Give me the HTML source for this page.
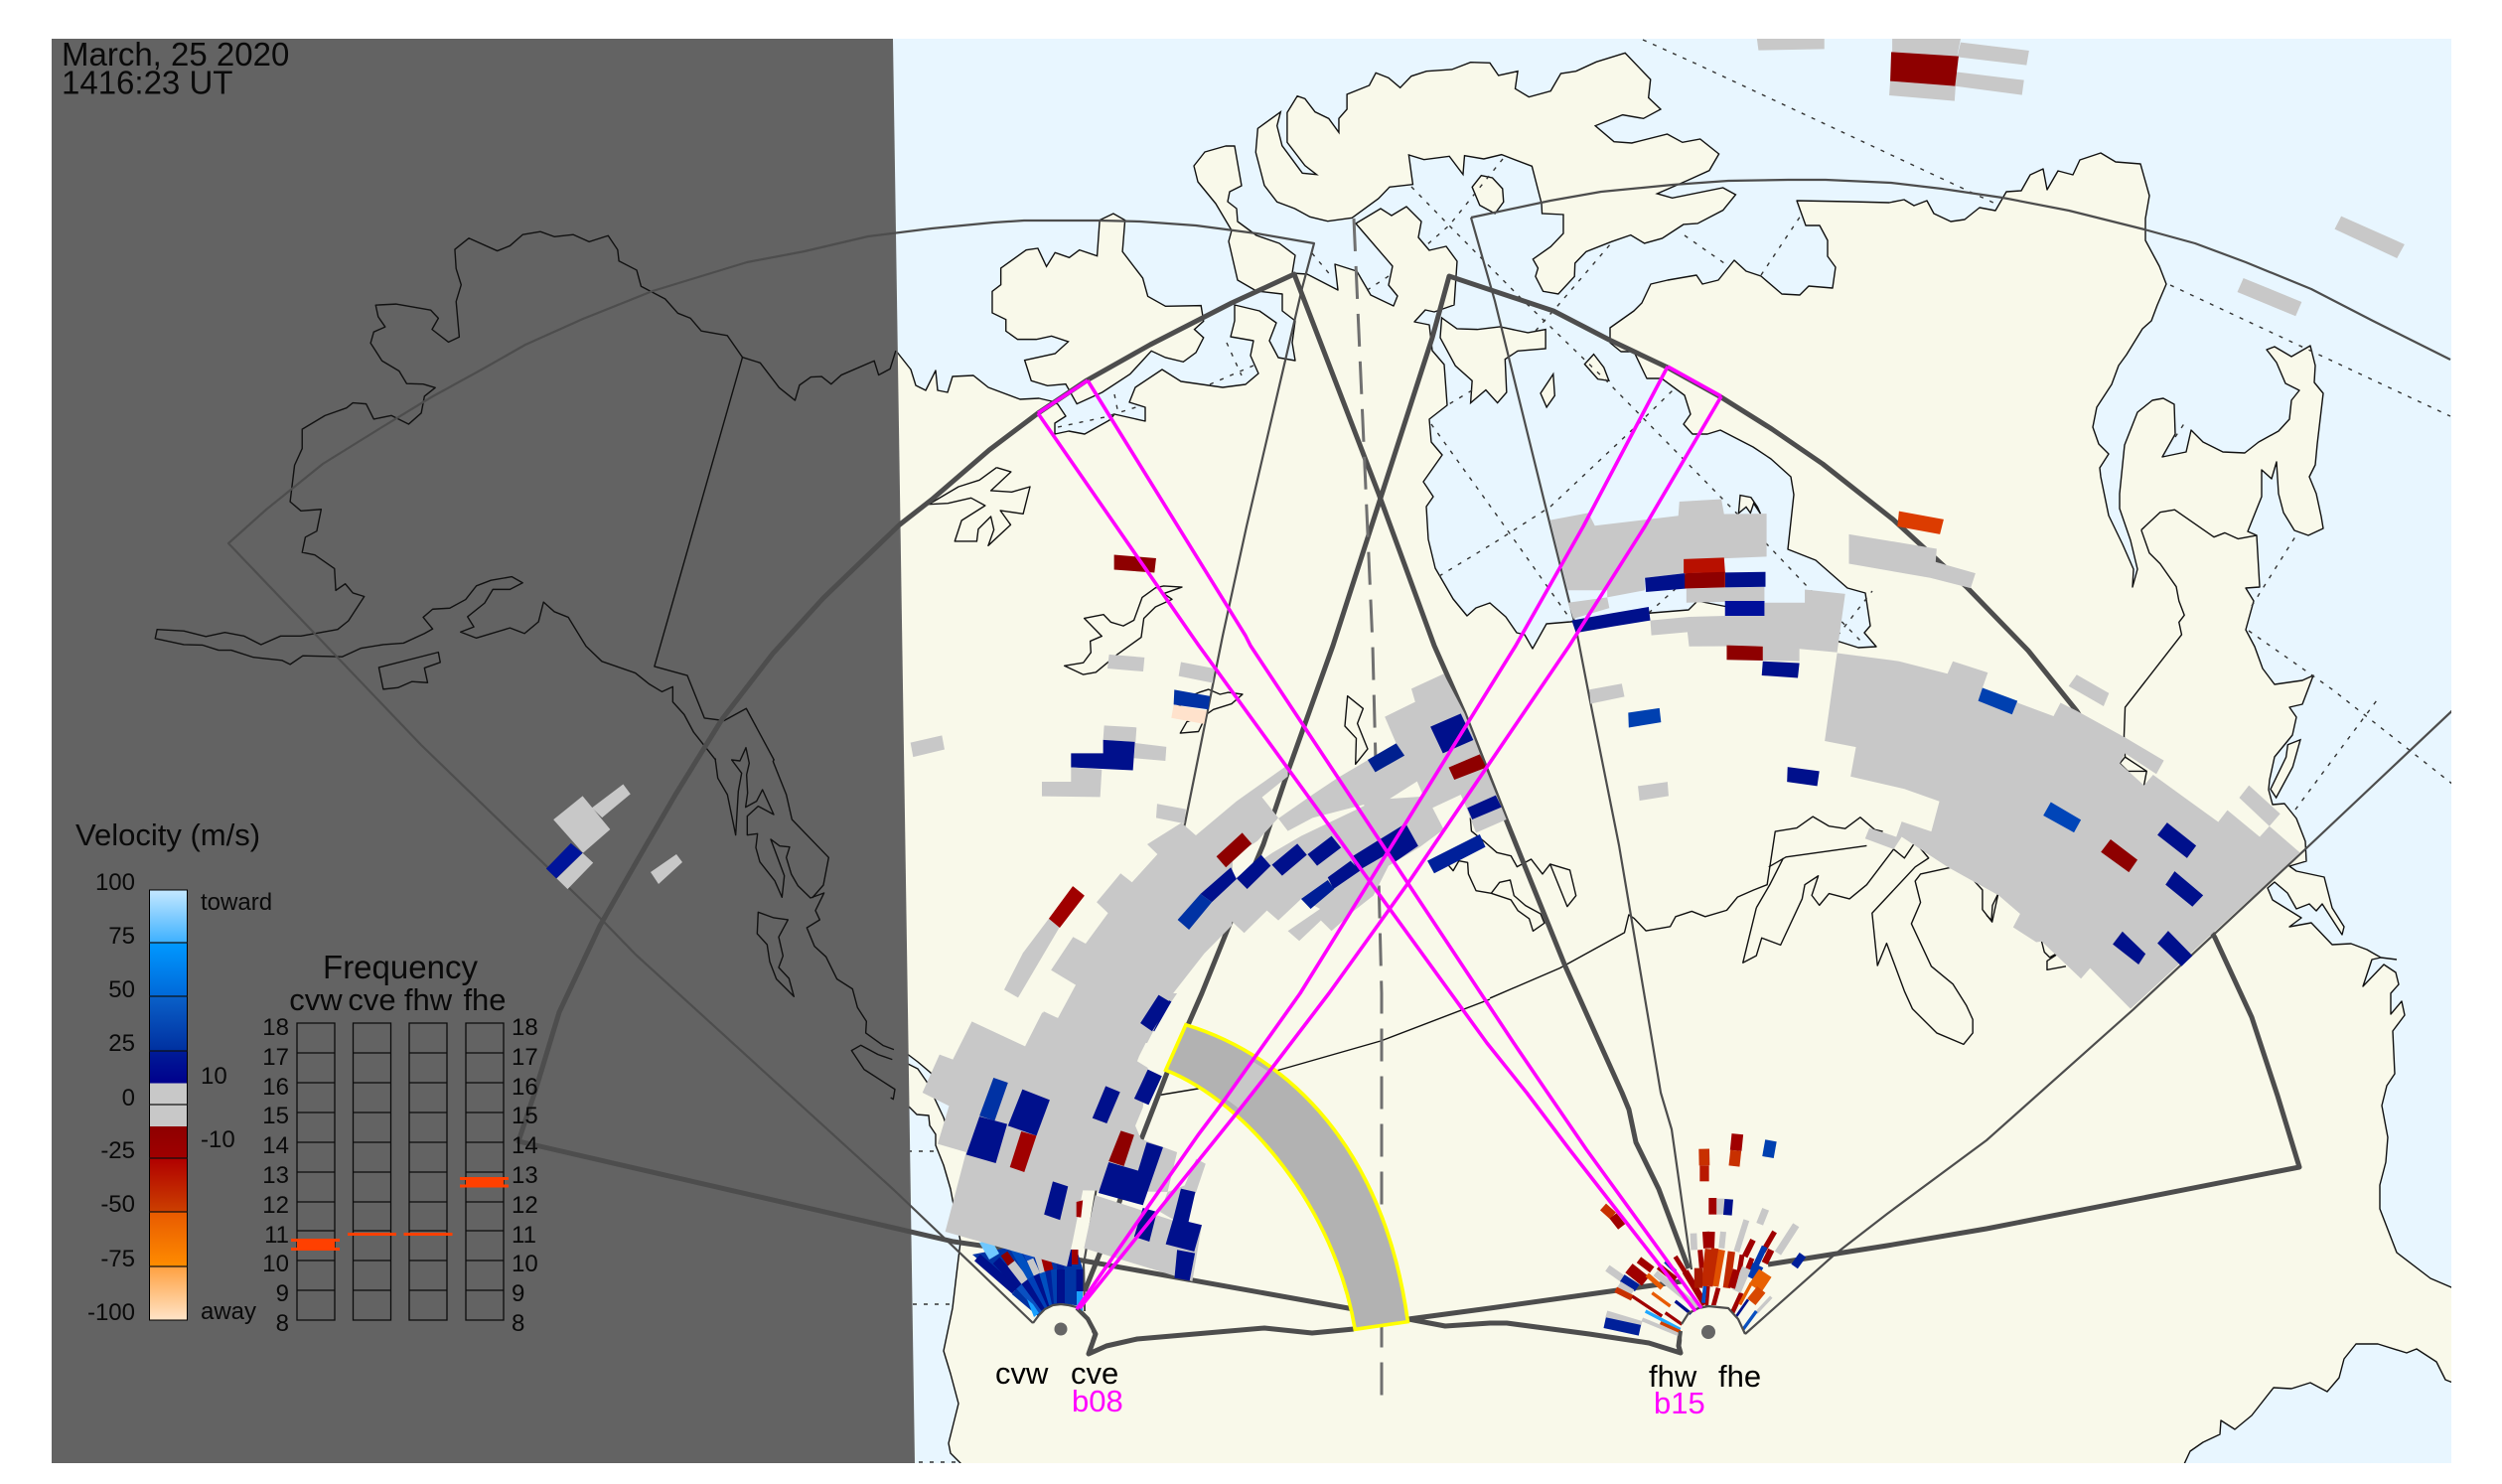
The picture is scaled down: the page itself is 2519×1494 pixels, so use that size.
<!DOCTYPE html>
<html><head><meta charset="utf-8"><title>Velocity map</title>
<style>
html,body{margin:0;padding:0;background:#fff}
svg{display:block}
.n *{vector-effect:non-scaling-stroke}
text{font-family:"Liberation Sans",sans-serif;fill:#0a0a0a}
.c{fill:none;stroke:#111;stroke-width:1.4;stroke-linejoin:round}
.d{fill:none;stroke:#333;stroke-width:1.4;stroke-dasharray:4 7}
.t{fill:none;stroke:#4d4d4d;stroke-width:2.2;stroke-linejoin:round}
.k{fill:none;stroke:#4d4d4d;stroke-width:5;stroke-linejoin:round}
.m{fill:none;stroke:#ff00ff;stroke-width:3.6;stroke-linejoin:round}
.g{fill:#c8c8c8}.nv{fill:#00108c}.bl{fill:#0032a4}.re{fill:#8e0000}.rd{fill:#a00000}
.f line,.f path{stroke-linecap:butt;fill:none}
</style></head><body>
<svg width="2519" height="1494" viewBox="0 0 2519 1494" xmlns="http://www.w3.org/2000/svg">
<defs>
<clipPath id="p"><rect x="52" y="39" width="2416" height="1434"/></clipPath>
<linearGradient id="cb" x1="0" y1="0" x2="0" y2="1">
<stop offset="0" stop-color="#c4e8ff"/><stop offset=".124" stop-color="#3cb0ff"/>
<stop offset=".124" stop-color="#0098ff"/><stop offset=".249" stop-color="#0068d8"/>
<stop offset=".249" stop-color="#0a60c8"/><stop offset=".374" stop-color="#0030a0"/>
<stop offset=".374" stop-color="#001c98"/><stop offset=".449" stop-color="#00008c"/>
<stop offset=".449" stop-color="#c8c8c8"/><stop offset=".55" stop-color="#c8c8c8"/>
<stop offset=".55" stop-color="#8e0000"/><stop offset=".624" stop-color="#a00000"/>
<stop offset=".624" stop-color="#b00000"/><stop offset=".749" stop-color="#cc4000"/>
<stop offset=".749" stop-color="#e85a00"/><stop offset=".875" stop-color="#ff8c00"/>
<stop offset=".875" stop-color="#ffa040"/><stop offset="1" stop-color="#ffe4c8"/>
</linearGradient>
</defs>
<rect width="2519" height="1494" fill="#fff"/>
<g clip-path="url(#p)">
<rect x="52" y="39" width="2416" height="1434" fill="#e8f6ff"/>
<g class="n">
<!-- main land -->
<polygon fill="#f9f9ea" stroke="#111" stroke-width="1.4" stroke-linejoin="round" points="880,353 902,353 917,372 922,388 932,393 942,373 944,393 954,395 959,379 980,378 995,390 1027,402 1046,401 1059,404 1065,407 1073,419 1062,426 1062,437 1076,434 1092,437 1117,423 1122,417 1153,424 1153,410 1137,405 1143,390 1170,372 1189,384 1231,390 1254,387 1267,376 1259,358 1262,343 1239,339 1243,323 1243,307 1268,313 1285,325 1278,343 1287,360 1304,363 1301,345 1304,323 1291,313 1291,296 1265,293 1246,282 1237,243 1240,232 1224,205 1206,183 1202,167 1213,153 1234,147 1243,147 1250,187 1238,193 1236,203 1245,210 1246,223 1265,237 1288,245 1304,257 1301,275 1316,276 1347,292 1344,266 1366,273 1380,297 1403,308 1407,298 1398,287 1402,268 1365,225 1390,210 1401,217 1416,208 1431,223 1428,239 1439,252 1456,248 1467,263 1464,307 1444,314 1435,312 1424,324 1439,327 1442,353 1454,367 1457,408 1439,422 1441,445 1452,458 1433,485 1443,500 1436,510 1438,543 1445,572 1463,603 1477,620 1486,612 1500,607 1516,621 1527,637 1535,639 1543,653 1557,628 1581,626 1663,617 1700,614 1709,605 1760,615 1800,640 1852,646 1871,652 1889,651 1877,637 1883,630 1878,597 1860,592 1852,585 1828,564 1800,553 1806,498 1803,480 1783,462 1765,450 1732,433 1719,437 1704,437 1695,427 1702,417 1696,398 1673,381 1658,381 1645,354 1632,354 1621,345 1621,330 1645,313 1653,305 1662,286 1679,282 1708,277 1714,286 1730,282 1746,262 1758,273 1773,278 1794,296 1812,297 1821,288 1845,290 1848,269 1840,258 1840,242 1832,227 1818,227 1809,202 1863,203 1902,204 1917,201 1927,207 1940,202 1947,215 1964,223 1978,221 1993,209 2009,212 2020,193 2035,192 2044,176 2057,170 2061,191 2072,172 2087,176 2094,161 2115,154 2130,163 2155,165 2164,197 2160,220 2160,242 2174,268 2181,286 2172,307 2166,323 2157,331 2141,357 2133,368 2126,387 2111,410 2107,430 2113,447 2123,457 2114,471 2115,480 2123,519 2137,548 2148,573 2147,591 2152,573 2145,544 2134,512 2134,497 2139,448 2152,415 2167,403 2178,401 2189,407 2190,437 2177,460 2201,455 2206,433 2218,445 2238,455 2260,456 2274,445 2294,434 2305,422 2307,403 2315,393 2301,386 2292,365 2282,352 2290,349 2307,359 2326,348 2331,368 2330,385 2339,396 2333,447 2331,468 2325,480 2332,497 2337,520 2339,532 2324,539 2310,534 2299,516 2294,497 2292,465 2287,482 2277,473 2277,500 2275,505 2263,535 2272,539 2275,591 2261,592 2269,605 2261,634 2270,651 2278,673 2290,689 2318,685 2329,680 2318,709 2305,712 2312,722 2308,740 2290,762 2285,785 2284,795 2288,810 2300,809 2312,824 2321,847 2322,867 2305,872 2312,877 2340,883 2348,914 2360,933 2358,941 2338,910 2332,917 2325,910 2312,915 2303,899 2290,888 2283,894 2288,906 2317,924 2305,933 2327,929 2348,951 2367,950 2383,956 2397,964 2388,966 2379,993 2400,971 2412,979 2415,991 2407,1000 2407,1021 2418,1008 2421,1022 2409,1038 2411,1081 2403,1093 2398,1113 2404,1145 2402,1170 2396,1193 2396,1217 2413,1261 2447,1287 2475,1299 2475,1393 2467,1391 2462,1389 2453,1371 2433,1358 2423,1362 2394,1353 2372,1353 2360,1368 2355,1387 2343,1401 2326,1392 2307,1398 2289,1397 2267,1425 2250,1439 2236,1430 2235,1444 2218,1452 2205,1461 2199,1474 2199,1485 975,1485 967,1473 957,1463 955,1453 965,1413 957,1383 950,1360 959,1317 963,1283 967,1250 957,1197 950,1173 942,1153 942,1142 936,1133 935,1123 923,1122 911,1110 901,1097 870,1077 857,1058 867,1052 884,1062 912,1070 924,1076 933,1089 950,1125 955,1140 972,1150 985,1148 968,1130 937,1080 924,1069 912,1060 889,1053 872,1040 860,1000 880,1000"/>
<line class="c" x1="2397" y1="964" x2="2413" y2="966"/>
<!-- islands -->
<g transform="translate(1000,30) scale(.5102,.3333)" fill="#f9f9ea" stroke="#111" stroke-width="1.4">
<polygon points="1247,70 1275,115 1297,150 1293,205 1317,240 1283,268 1242,257 1188,290 1225,338 1260,342 1330,315 1360,340 1395,330 1432,375 1413,425 1370,455 1310,495 1340,508 1440,477 1465,498 1440,545 1390,585 1362,588 1320,630 1285,645 1258,620 1220,640 1170,670 1148,705 1147,745 1115,798 1085,790 1070,745 1075,720 1065,693 1100,655 1125,615 1125,558 1083,555 1082,525 1063,412 1003,377 968,390 930,380 927,437 900,382 850,392 820,378 828,467 782,475 760,510 708,568 660,578 625,565 595,540 560,520 535,470 518,370 522,298 567,248 560,290 570,350 610,433 638,437 615,410 580,340 580,250 600,200 615,208 635,248 662,268 682,310 682,268 698,240 698,195 742,168 755,130 780,145 803,175 825,140 855,125 905,120 942,98 980,100 997,138 1035,125 1030,178 1057,203 1100,185 1120,132 1150,125 1190,97"/>
<polygon points="945,475 963,440 985,447 1005,480 1007,520 990,555 960,530"/>
<polygon points="1185,980 1205,1020 1215,1060 1193,1055 1167,1010"/>
<polygon points="1105,1040 1108,1105 1092,1140 1080,1098"/>
<polygon points="885,870 915,903 955,905 1000,897 1055,915 1090,905 1090,963 1035,970 1010,995 1013,1095 995,1127 972,1088 942,1127 945,1060 912,1015 882,930"/>
<polygon points="210,575 237,555 260,575 255,670 295,750 305,805 340,835 410,833 415,880 397,905 415,930 400,975 375,1003 340,990 312,970 270,1040 215,1095 165,1130 143,1070 107,1075 75,1060 62,998 122,978 148,942 115,925 85,935 48,935 25,910 25,875 -2,855 -2,790 15,770 15,720 65,665 88,660 105,715 122,673 150,688 170,665 205,683"/>
</g>
<polygon transform="translate(1500,480) scale(.542,.3571)" fill="#f9f9ea" stroke="#111" stroke-width="1.4" points="462,103 465,52 485,58 497,85 503,105 490,75 484,102 476,85"/>
<polygon transform="translate(2000,700) scale(.3333,.4975)" fill="#f9f9ea" stroke="#111" stroke-width="1.4" points="948,90 910,100 905,125 858,190 875,207 925,145"/>
<!-- lakes and interior lines -->
<polyline class="c" transform="translate(900,340) scale(.3827,.3333)" points="270,392 308,405 255,462 310,466 358,450 340,532 280,522 307,565 248,628 263,580 255,540 222,578 218,615 160,615 178,552 240,507 203,484 142,500 92,503 170,450 225,430 270,392"/>
<g transform="translate(850,500) scale(.3333,.3827)">
<polygon class="c" points="665,445 722,437 745,410 743,380 778,367 725,320 783,310 805,330 843,340 875,325 900,265 940,240 965,235 1020,238 965,255 990,270 940,290 905,320 897,370 825,415 760,462 722,468"/>
<polygon class="c" points="1072,515 1100,507 1135,520 1160,515 1203,520 1170,545 1115,560 1095,572 1070,618 1015,622 1035,592 1060,585 1000,540"/>
</g>
<g transform="translate(1000,650) scale(.3827,.3333)">
<polygon class="c" points="932,152 973,190 958,235 985,312 953,358 955,280 925,243"/>
<polyline class="c" points="1255,520 1258,560 1290,590 1325,625 1362,635 1378,668 1415,645 1445,690 1465,660 1517,678 1533,755 1510,788 1465,660"/>
<polyline class="c" points="1195,660 1210,680 1225,650 1248,655 1250,690 1270,740 1310,748 1362,768 1380,800 1410,825 1420,862 1450,838 1440,810 1400,785 1370,755 1360,708 1332,715 1310,748"/>
</g>
<g transform="translate(1500,480) scale(.542,.3571)">
<polyline class="c" points="1210,150 1245,100 1272,93 1345,170 1365,158 1390,175 1425,165"/>
<polyline class="c" points="1210,150 1225,215 1245,245 1275,310 1280,350 1290,390 1280,410 1285,445 1180,650 1178,730 1180,790 1170,808 1185,830 1220,830 1215,870"/>
<polyline class="c" points="1180,790 1220,830"/>
<polyline class="c" points="0,1470 130,1385 250,1285 258,1235 268,1245 290,1280 335,1268 345,1240 375,1225 400,1240 440,1222 460,1185 490,1165 515,1150 520,1100 530,1000 570,990 600,958 630,985 660,992 688,960 715,995 730,1000"/>
<polyline class="c" points="518,1100 550,1072 700,1040"/>
<polyline class="c" points="495,1215 470,1370 495,1350 505,1300 540,1320 580,1190 585,1150 610,1125 598,1180 612,1208 630,1175 668,1190 700,1150 750,1050 770,1075 790,1030 815,1075 790,1100 710,1230 720,1378 737,1315 770,1450 785,1500 830,1568 880,1600 897,1568 897,1530 885,1490 860,1430 820,1380 783,1260 800,1200 790,1140 800,1120 860,1100 885,1115 915,1165 915,1220 933,1255 945,1170"/>
<polyline class="c" points="495,1215 520,1150 545,1075"/>
<polyline class="c" points="1025,1310 1030,1340 1040,1355 1075,1325 1035,1365 1035,1390 1070,1380"/>
</g>
<polyline class="c" transform="translate(2000,700) scale(.3333,.4975)" points="40,395 18,425 15,455 0,445"/>
<polyline class="c" points="1164,1103 1212,1095 1285,1078 1390,1048 1500,1006"/>
<!-- graticule -->
<g>
<polyline class="d" points="1654,40 1705,63 2009,205"/>
<polyline class="d" points="2185,287 2467,419"/>
<polyline class="d" points="1696,237 1736,265"/>
<polyline class="d" points="1773,277 1813,217"/>
<polyline class="d" points="1421,188 1459,227 1531,300 1617,383 1735,503 1779,548 1820,591 1876,648"/>
<polyline class="d" points="1513,160 1459,227 1436,247"/>
<polyline class="d" points="1398,278 1375,293"/>
<polyline class="d" points="1321,255 1342,280"/>
<polyline class="d" points="1235,345 1250,378"/>
<polyline class="d" points="1218,387 1262,368"/>
<polyline class="d" points="1122,397 1126,417"/>
<polyline class="d" points="1065,430 1112,420 1150,408"/>
<polyline class="d" points="1441,427 1510,523 1578,619"/>
<polyline class="d" points="1449,580 1505,546 1561,510 1643,433 1684,393"/>
<polyline class="d" points="1482,393 1457,408"/>
<polyline class="d" points="1546,333 1569,307 1622,245"/>
<polyline class="d" points="1660,617 1690,590"/>
<polyline class="d" points="1850,640 1885,595"/>
<polyline class="d" points="2264,635 2348,694 2470,790"/>
<polyline class="d" points="2267,610 2313,537"/>
<polyline class="d" points="2311,815 2393,705"/>
<polyline class="d" points="914,1159 942,1159"/>
<polyline class="d" points="919,1313 959,1313"/>
<polyline class="d" points="925,1472 965,1472"/>
<polyline class="d" points="2190,440 2200,425"/>
</g>
<!-- night -->
<polygon fill="#636363" points="52,39 899,39 921,1473 52,1473"/>
<!-- coast over night -->
<g transform="scale(.6378,.5102)">
<polyline class="c" points="1414,692 1405,728 1387,740 1380,712 1328,740 1312,758 1297,743 1280,744 1262,760 1255,790 1230,765 1200,716 1172,705 1148,662 1107,653 1090,628 1070,618 1050,590 1012,565 1005,533 977,515 975,493 960,465 930,477 905,463 875,467 853,457 825,463 805,485 785,495 740,470 718,492 720,530 728,562 720,595 725,665 708,675 682,650 692,628 680,612 625,600 593,602 597,625 608,645 590,655 585,677 603,712 630,732 642,757 668,758 687,765 670,782 665,815 645,837 618,820 590,827 578,797 557,795 547,805 513,820 477,847 477,885 465,918 458,990 475,1008 507,1005 500,1048 482,1060 477,1090 497,1095 528,1122 530,1165 545,1152 557,1170 575,1177 550,1225 533,1242 475,1255 443,1255 412,1272 385,1255 355,1248 325,1256 290,1245 248,1242 245,1260 290,1272 320,1273 345,1283 365,1283 400,1297 445,1303 458,1311 478,1294 540,1296 570,1279 605,1272 637,1269 670,1250 683,1241 668,1218 683,1202 710,1200 735,1183 752,1156 775,1145 808,1138 825,1150 805,1163 778,1163 765,1190 738,1217 748,1237 727,1247 752,1259 805,1239 828,1250 850,1227 858,1188 875,1207 897,1218 925,1275 950,1305 1003,1328 1025,1350 1045,1365 1062,1355 1062,1385 1080,1410 1095,1445 1130,1500"/>
<polyline class="c" points="1172,705 1033,1315 1085,1333 1112,1417 1143,1422 1178,1398 1222,1500"/>
<polygon class="c" points="598,1317 692,1287 695,1307 670,1318 675,1347 650,1345 628,1357 605,1360"/>
</g>
<g transform="translate(680,720) scale(.3333)">
<polyline class="c" points="120,130 128,190 157,240 182,362 190,230 200,175 170,135 195,138 213,98 223,145 215,180 218,235 212,278 245,260 263,225 297,300 250,275 217,305 217,362 248,358 243,400 255,443 300,500 322,550 329,485 288,375 315,395 345,398 335,430 350,480 370,515 408,552 449,537 423,590 436,618 397,642 420,698 455,730 488,797 535,827 550,883 577,925 575,960 628,998 660,1010"/>
<polyline class="c" points="298,133 295,140 335,240 352,315 463,430 447,513 413,552"/>
<polygon class="c" points="250,595 297,612 340,618 312,670 325,727 312,762 343,795 358,850 305,797 285,745 277,693 247,660"/>
<polyline class="c" points="655,1040 612,1025 560,997 532,1013 570,1070 663,1130 658,1160 650,1155"/>
</g>
<!-- thin FOV -->
<polyline class="t" points="1040,1332 986,1280 900,1198 640,961 604,924 424,750 230,547 268,513 325,467 383,431 434,400 485,372 529,347 587,321 657,293 752,264 810,253 874,238 938,230 1000,224 1031,222 1107,222 1148,223 1204,227 1265,235 1323,245 1311,290 1255,530 1231,640 1193,829 1150,1000 1110,1160 1091,1273 1092,1320"/>
<polyline class="t" points="1481,219 1561,202 1612,193 1684,186 1740,182 1800,181 1838,181 1904,184 1955,190 2016,199 2083,212 2159,231 2210,245 2261,264 2327,291 2389,323 2467,362"/>
<polyline class="t" points="1481,219 1505,303 1561,530 1587,634 1600,701 1630,851 1662,1040 1672,1100 1683,1137 1703,1278"/>
<polyline class="t" points="2480,705 2322,854 2147,1017 2000,1148 1900,1222 1847,1263 1757,1343"/>
<!-- thick FOV -->
<polyline class="k" points="1363,1318 1084,1268 960,1250 522,1149 539,1098 563,1019 604,932 640,869 680,800 727,724 778,658 829,602 906,528 938,503 996,453 1045,416 1094,383 1158,347 1240,305 1303,276 1388,497 1444,650 1474,718 1517,827 1576,973 1606,1040 1633,1100 1640,1117 1647,1150 1670,1197 1700,1277"/>
<polyline class="k" points="1092,1300 1120,1230 1149,1147 1175,1080 1210,1000 1237,933 1272,850 1298,773 1342,650 1442,340 1459,278 1564,313 1620,342 1679,370 1733,400 1784,432 1835,467 1906,523 1980,591 2042,655 2091,716 2180,860 2230,944 2267,1024 2293,1103 2315,1175 2000,1237 1900,1254 1780,1273"/>
<polyline class="k" points="1693,1290 1657,1295 1500,1317 1418,1328 1455,1335 1500,1332 1517,1332 1600,1343 1660,1352 1692,1362 1690,1355 1692,1340"/>
<polyline class="k" points="1363,1338 1321,1342 1273,1337 1145,1348 1114,1355 1096,1363 1103,1343 1095,1328 1084,1317"/>
<!-- dashed centre line -->
<polyline fill="none" stroke="#707070" stroke-width="3" stroke-dasharray="33 15" points="1363,220 1382,650 1391,1000 1391,1413"/>
</g>
<!-- echoes: west fan base -->
<g class="f">
<polygon fill="#0034a4" points="1048,1321 979,1263 1010,1257 1084,1258 1090,1277 1089,1315 1068,1312"/>
<path stroke="#0030a0" stroke-width="10" d="M1048,1321L1022,1299"/><path stroke="#00108c" stroke-width="9" d="M1022,1299L984,1266"/>
<path stroke="#0a50c0" stroke-width="10" d="M1050,1319L1027,1294"/><path stroke="#00108c" stroke-width="9" d="M1027,1294L1003,1269"/>
<path stroke="#00108c" stroke-width="9" d="M1052,1317L1032,1290"/><path stroke="#8e0000" stroke-width="8" d="M1018,1272L1011,1262"/><path stroke="#c8c8c8" stroke-width="9" d="M1032,1290L1018,1272"/>
<path stroke="#0040b8" stroke-width="8" d="M1055,1315L1038,1286"/><path stroke="#0050c0" stroke-width="8" d="M1038,1286L1020,1255"/>
<path stroke="#00108c" stroke-width="8" d="M1058,1314L1044,1283"/><path stroke="#c8c8c8" stroke-width="7" d="M1044,1283L1037,1268"/><path stroke="#0a4ac0" stroke-width="8" d="M1037,1268L1030,1251"/>
<path stroke="#0050c0" stroke-width="8" d="M1060,1313L1050,1281"/><path stroke="#c8c8c8" stroke-width="6" d="M1050,1281L1039,1248"/>
<path stroke="#00209a" stroke-width="8" d="M1063,1313L1056,1279"/><path stroke="#a00000" stroke-width="9" d="M1056,1279L1050,1255"/>
<path stroke="#0040b0" stroke-width="8" d="M1065,1312L1062,1278"/>
<path stroke="#00108c" stroke-width="8" d="M1068,1312L1068,1278"/><path stroke="#00209a" stroke-width="7" d="M1068,1278L1066,1258"/>
<path stroke="#18a0ff" stroke-width="6" d="M1087,1320L1087,1300"/><path stroke="#a00000" stroke-width="7" d="M1082,1273L1082,1258"/><path stroke="#00108c" stroke-width="6" d="M1076,1275L1076,1258"/><path stroke="#00108c" stroke-width="7" d="M1087,1300L1087,1278"/>
<polygon fill="#18a0ff" points="1034,1308 1040,1313 1046,1322 1041,1326"/>
<polygon fill="#70c8ff" points="986,1251 998,1248 1006,1262 996,1268"/>
</g>
<g class="n">
<!-- Z2 echoes -->
<g transform="translate(900,1000) scale(.3827,.3333)">
<polygon class="g" points="205,85 345,160 390,58 432,75 470,0 745,0 680,110 645,190 640,205 668,225 655,345 635,400 650,440 745,480 720,600 497,595 470,750 455,825 135,720 190,480 160,470 115,455 145,340 75,300 120,185 155,200"/>
<polygon class="g" points="530,610 745,690 810,700 785,870 500,770"/>
<polygon class="g" points="720,600 765,580 795,500 820,515 795,600 745,690 700,660"/>
<polygon class="bl" points="262,255 300,270 265,385 225,370"/>
<polygon class="nv" points="338,290 410,322 375,430 300,400"/>
<polygon class="nv" points="225,372 298,395 268,513 190,487"/>
<polygon class="rd" points="335,417 375,430 343,540 305,525"/>
<polygon class="nv" points="557,280 595,298 560,393 522,377"/>
<polygon class="nv" points="668,230 705,250 670,337 632,318"/>
<polygon class="nv" points="695,5 730,25 685,115 648,95"/>
<polygon class="nv" points="418,568 458,583 437,685 395,668"/>
<polygon class="re" points="597,415 632,428 605,522 565,507"/>
<polygon class="nv" points="665,450 708,465 655,640 620,620"/>
<polygon class="nv" points="565,510 670,545 655,640 538,603"/>
<polygon class="nv" points="655,648 692,660 672,750 632,735"/>
<polygon class="nv" points="755,590 793,600 775,690 810,700 790,780 715,758 735,680"/>
<polygon class="nv" points="745,775 792,785 778,868 738,860"/>
<polygon class="rd" points="480,630 497,625 492,677 480,675"/>
</g>
<!-- Z8 echoes -->
<g transform="translate(850,500) scale(.3333,.3827)">
<polygon class="g" points="800,415 907,423 903,460 795,452"/>
<polygon class="g" points="1017,435 1118,452 1113,490 1010,472"/>
<polygon class="g" points="200,647 295,628 303,665 208,685"/>
<polygon class="re" points="815,153 942,162 937,200 815,192"/>
<polygon class="bl" points="997,508 1105,525 1100,560 995,547"/>
<polygon fill="#ffe2cc" points="995,547 1095,563 1087,598 988,582"/>
<polygon class="g" points="785,602 883,607 880,645 782,640"/>
<polygon class="g" points="878,648 973,658 970,695 875,688"/>
<polygon class="nv" points="782,640 878,645 872,720 685,712 685,675 782,675"/>
<polygon class="g" points="685,712 778,718 773,790 597,788 597,750 685,750"/>
<polygon class="g" points="945,808 1032,822 1027,860 942,845"/>
<polygon class="g" points="618,1110 650,1133 525,1318 483,1297 540,1200"/>
<polygon class="rd" points="690,1025 725,1050 650,1133 618,1110"/>
</g>
<!-- Z4 echoes -->
<g transform="translate(1000,650) scale(.3827,.3333)">
<polygon class="g" points="405,600 495,535 533,573 640,470 775,360 775,395 707,458 750,520 695,590 630,640 628,845 555,930 470,1055 405,1200 90,1200 133,1105 170,1125 217,1025 152,980 210,880 243,900 302,808 272,775 335,688 365,715 432,630"/>
<polygon class="g" points="585,790 640,700 735,625 810,575 1010,465 1140,455 1185,555 1120,610 1040,665 1000,755 950,800 890,862 862,830 805,892 775,862 860,795 810,765 750,830 720,800 660,868 625,830"/>
<polygon class="g" points="750,522 840,450 905,400 1060,295 1030,215 1110,170 1100,130 1185,85 1240,205 1295,370 1350,525 1270,565 1245,490 1230,450 1155,490 1130,450 1115,410 985,505 975,480 840,520 775,560"/>
<polygon class="nv" points="625,670 640,705 575,775 545,750"/>
<polygon class="bl" points="545,750 575,775 515,858 485,828"/>
<polygon class="nv" points="705,632 730,665 668,735 640,703"/>
<polygon class="nv" points="800,598 825,632 760,695 733,662"/>
<polygon class="nv" points="890,575 915,610 852,665 827,630"/>
<polygon class="nv" points="940,640 1010,590 1085,537 1118,605 1055,655 1035,630 960,680"/>
<polygon class="nv" points="880,700 940,650 965,680 895,735"/>
<polygon fill="#001e96" points="810,765 880,708 897,735 835,795"/>
<polygon fill="#00208f" points="1060,295 1082,332 1005,382 985,345"/>
<polygon class="nv" points="1150,245 1230,205 1263,285 1183,325"/>
<polygon class="re" points="1198,368 1280,328 1297,368 1213,405"/>
<polygon class="nv" points="1247,490 1322,452 1337,488 1260,525"/>
<polygon fill="#00209a" points="1142,650 1280,570 1295,608 1160,688"/>
<polygon class="re" points="655,565 680,598 612,670 587,637"/>
<polygon class="rd" points="210,727 240,755 175,852 147,825"/>
<polygon class="nv" points="435,1055 467,1077 418,1165 387,1140"/>
</g>
<!-- Z5 echoes -->
<g transform="translate(1500,480) scale(.542,.3571)">
<polygon class="g" points="112,122 183,102 195,138 350,110 352,70 430,63 435,105 514,104 514,225 437,230 362,272 287,285 288,320 218,340 218,320 145,320 135,260"/>
<polygon class="g" points="145,355 218,340 222,370 155,400"/>
<polygon class="g" points="365,315 510,310 510,350 365,355"/>
<polygon fill="#00109a" points="437,350 510,350 510,392 437,392"/>
<polygon fill="#b81000" points="360,232 435,228 437,270 360,272"/>
<polygon class="nv" points="288,285 362,272 365,315 290,325"/>
<polygon class="nv" points="437,270 512,268 512,310 437,312"/>
<polygon class="re" points="362,272 437,268 437,312 362,315"/>
<polygon class="nv" points="152,405 225,385 295,367 298,405 228,422 160,440"/>
<polygon class="g" points="298,405 370,395 437,392 510,355 585,355 585,318 660,330 645,495 575,485 575,520 507,518 507,477 370,478 367,438 300,447"/>
<polygon class="re" points="440,475 507,478 507,518 440,516"/>
<polygon class="nv" points="507,520 575,525 572,567 505,560"/>
<polygon fill="#00109a" points="437,350 510,350 510,392 437,392"/>
<polygon class="g" points="667,162 830,203 828,240 902,272 893,314 818,285 667,245"/>
<polygon fill="#dc3c00" points="760,97 843,120 836,162 757,140"/>
<polygon class="g" points="185,600 245,583 250,620 187,640"/>
<polygon fill="#0040b0" points="257,665 315,652 318,692 258,707"/>
<polygon class="nv" points="553,818 612,830 608,872 552,860"/>
<polygon class="g" points="275,872 330,860 332,900 278,913"/>
<polygon class="g" points="645,497 760,520 850,555 860,520 925,552 915,595 985,640 1047,675 1060,637 1090,660 1180,735 1252,800 1238,838 1180,780 1170,808 1215,870 1232,840 1300,915 1353,973 1370,940 1430,1015 1448,985 1505,1060 1190,1500 1115,1385 1098,1415 1025,1310 1015,1312 972,1270 985,1232 945,1180 850,1100 765,1015 750,1050 697,1020 705,990 755,1015 765,972 820,1000 835,915 770,880 670,845 680,762 622,745"/>
<polygon class="g" points="1410,870 1468,950 1448,985 1392,905"/>
<polygon class="g" points="1075,590 1090,558 1150,610 1140,647"/>
<polygon fill="#0040b0" points="915,595 980,632 970,670 907,632"/>
<polygon fill="#0045b8" points="1042,917 1098,967 1085,1003 1028,955"/>
<polygon class="re" points="1153,1022 1203,1080 1187,1115 1135,1058"/>
<polygon class="nv" points="1258,975 1312,1040 1295,1075 1240,1010"/>
<polygon class="nv" points="1272,1112 1325,1180 1305,1212 1255,1150"/>
<polygon class="nv" points="1175,1282 1218,1345 1205,1375 1157,1318"/>
<polygon class="nv" points="1260,1280 1305,1350 1285,1380 1240,1315"/>
</g>
<!-- Z7 echoes -->
<g transform="translate(1700,20) scale(.5102,.3333)">
<polygon class="g" points="135,57 268,57 268,88 138,92"/>
<polygon class="g" points="402,57 537,57 530,110 402,97"/>
<polygon class="g" points="537,68 672,93 667,137 530,112"/>
<polygon class="g" points="528,157 662,182 658,227 525,200"/>
<polygon class="g" points="398,185 527,200 525,245 396,228"/>
<polygon class="re" points="400,97 533,110 526,200 398,185"/>
<polygon class="g" points="1288,593 1413,678 1398,720 1275,632"/>
<polygon class="g" points="1095,780 1210,852 1198,895 1083,822"/>
</g>
<!-- Z1 echoes on night side -->
<g transform="translate(0,750) scale(.4082,.3953)">
<polygon class="g" points="1437,130 1505,215 1438,275 1365,190"/>
<polygon class="g" points="1460,160 1537,100 1555,125 1485,185"/>
<polygon class="g" points="1437,275 1463,300 1400,367 1373,340"/>
<polygon fill="#00149a" points="1408,250 1437,275 1372,340 1347,315"/>
</g>
<polygon class="g" points="655,878 681,860 687,868 663,890"/>
</g>
<!-- east fan -->
<g class="f" transform="translate(1500,1100) scale(.3333)">
<path stroke="#c8c8c8" stroke-width="22" d="M355,530L405,565"/>
<path stroke="#a00000" stroke-width="22" d="M450,505L490,535"/>
<path stroke="#a00000" stroke-width="35" d="M420,530L470,570"/>
<path stroke="#00209a" stroke-width="25" d="M400,560L445,590"/>
<path stroke="#c8c8c8" stroke-width="22" d="M390,580L430,605"/>
<path stroke="#c83000" stroke-width="18" d="M380,595L430,620"/>
<path stroke="#a00000" stroke-width="10" d="M430,615L520,675"/>
<path stroke="#e85a00" stroke-width="15" d="M475,550L520,590"/>
<path stroke="#e85a00" stroke-width="10" d="M490,605L545,645"/>
<path stroke="#a00000" stroke-width="10" d="M530,665L580,700"/>
<path stroke="#c8c8c8" stroke-width="12" d="M460,685L570,730"/>
<path stroke="#20a8ff" stroke-width="10" d="M470,660L575,715"/>
<path stroke="#d04000" stroke-width="10" d="M515,695L575,722"/>
<path stroke="#c8c8c8" stroke-width="20" d="M352,668L458,700"/>
<path stroke="#00209a" stroke-width="33" d="M347,695L453,718"/>
<path stroke="#c83000" stroke-width="27" d="M342,345L372,372"/>
<path stroke="#a00000" stroke-width="27" d="M372,372L398,405"/>
<path stroke="#c8c8c8" stroke-width="20" d="M500,545L635,655"/>
<path stroke="#0040b0" stroke-width="12" d="M530,510L560,540"/>
<path stroke="#a00000" stroke-width="20" d="M510,525L560,565"/>
<path stroke="#a00000" stroke-width="14" d="M560,495L620,590"/>
<path stroke="#a00000" stroke-width="20" d="M590,540L650,640"/>
<path stroke="#00108c" stroke-width="10" d="M560,630L610,670"/>
<path stroke="#a00000" stroke-width="15" d="M635,475L640,530"/>
<path stroke="#a00000" stroke-width="20" d="M652,420L655,470"/>
<path stroke="#a00000" stroke-width="20" d="M670,420L668,470"/>
<path stroke="#c8c8c8" stroke-width="20" d="M615,425L617,475"/>
<path stroke="#c8c8c8" stroke-width="18" d="M705,420L700,470"/>
<path stroke="#c8c8c8" stroke-width="18" d="M775,385L745,480"/>
<path stroke="#c8c8c8" stroke-width="22" d="M833,352L815,397"/>
<path stroke="#c8c8c8" stroke-width="22" d="M925,400L870,485"/>
<path stroke="#a00000" stroke-width="18" d="M795,445L770,495"/>
<path stroke="#a00000" stroke-width="16" d="M860,420L825,480"/>
<path stroke="#a00000" stroke-width="20" d="M850,475L830,515"/>
<path stroke="#0038b0" stroke-width="18" d="M830,465L790,550"/>
<path stroke="#0038b0" stroke-width="40" d="M808,520L788,560"/>
<path stroke="#e86000" stroke-width="45" d="M832,545L802,590"/>
<path stroke="#d84800" stroke-width="32" d="M820,595L790,632"/>
<path stroke="#c8c8c8" stroke-width="10" d="M850,617L805,665"/>
<path stroke="#0a50c0" stroke-width="10" d="M805,660L765,715"/>
<path stroke="#00108c" stroke-width="8" d="M780,625L745,675"/>
<path stroke="#a00000" stroke-width="14" d="M760,605L730,670"/>
<path stroke="#e86000" stroke-width="10" d="M790,575L755,640"/>
<path stroke="#a00000" stroke-width="15" d="M762,490L750,560"/>
<path stroke="#a00000" stroke-width="15" d="M792,500L772,550"/>
<path stroke="#c8c8c8" stroke-width="28" d="M775,530L745,600"/>
<path stroke="#c02800" stroke-width="22" d="M730,480L715,590"/>
<path stroke="#e05000" stroke-width="22" d="M700,475L680,585"/>
<path stroke="#c02800" stroke-width="22" d="M680,470L662,585"/>
<path stroke="#c02800" stroke-width="20" d="M660,472L648,585"/>
<path stroke="#0050c8" stroke-width="12" d="M650,585L645,635"/>
<path stroke="#a00000" stroke-width="10" d="M660,585L655,645"/>
<path stroke="#a00000" stroke-width="14" d="M690,590L675,645"/>
<path stroke="#a81800" stroke-width="25" d="M630,530L630,590"/>
<path stroke="#a00000" stroke-width="22" d="M745,535L730,590"/>
<path stroke="#a00000" stroke-width="35" d="M748,125L743,175"/>
<path stroke="#c83000" stroke-width="33" d="M743,175L738,222"/>
<path stroke="#c83000" stroke-width="32" d="M647,170L648,220"/>
<path stroke="#b81800" stroke-width="28" d="M648,220L648,268"/>
<path stroke="#0040b0" stroke-width="35" d="M849,145L840,195"/>
<path stroke="#a00000" stroke-width="24" d="M673,318L673,368"/>
<path stroke="#c8c8c8" stroke-width="24" d="M697,320L697,368"/>
<path stroke="#00108c" stroke-width="26" d="M722,322L718,370"/>
<path stroke="#00209a" stroke-width="24" d="M945,490L920,525"/>
</g>
<g class="n">
<!-- near range clear discs -->
<circle cx="1070" cy="1342" r="29" fill="#f9f9ea"/>
<circle cx="1724" cy="1345" r="31" fill="#f9f9ea"/>
<polyline class="t" points="1040,1332 1046,1324 1052,1318 1060,1314 1068,1313 1076,1314 1084,1316"/>
<polyline class="k" style="stroke-width:4" points="1084,1317 1095,1328 1103,1343 1096,1363"/>
<polyline class="t" points="1693,1333 1700,1322 1710,1317 1720,1315 1740,1317 1750,1328 1757,1343"/>
<polyline class="k" style="stroke-width:4" points="1692,1340 1690,1355 1692,1362"/>
<circle cx="1068" cy="1338" r="6.5" fill="#666"/>
<circle cx="1720" cy="1341" r="7" fill="#666"/>
<!-- yellow scan band -->
<path transform="translate(900,1000) scale(.3827,.3333)" fill="#b2b2b2" stroke="#ffff00" stroke-width="3.6" stroke-linejoin="miter" d="M768,95 C1040,190 1290,470 1352,992 L1213,1015 C1160,650 930,330 715,232 Z"/>
<polygon transform="translate(900,1000) scale(.3827,.3333)" fill="#c8c8c8" points="943,205 988,238 910,350 875,320"/>
<!-- magenta beams -->
<polyline class="m" points="1045,416 1095,383"/>
<polyline class="m" points="1045,416 1200,640 1207,650 1497,1050 1537,1100 1580,1157 1707,1320"/>
<polyline class="m" points="1095,383 1254,640 1259,650 1524,1050 1558,1100 1597,1157 1713,1317"/>
<polyline class="m" points="1679,369 1733,399"/>
<polyline class="m" points="1679,369 1594,530 1526,650 1309,1000 1233,1107 1206,1143 1084,1318"/>
<polyline class="m" points="1733,399 1656,530 1580,650 1417,890 1338,1000 1277,1080 1248,1117 1087,1317"/>
</g>
</g>
<!-- colour bar -->
<rect x="150.5" y="896" width="38" height="433" fill="url(#cb)" stroke="#000" stroke-width="1"/>
<g stroke="#111" stroke-width="1.2">
<line x1="150" y1="949" x2="189" y2="949"/><line x1="150" y1="1003" x2="189" y2="1003"/><line x1="150" y1="1058" x2="189" y2="1058"/><line x1="150" y1="1112" x2="189" y2="1112"/><line x1="150" y1="1166" x2="189" y2="1166"/><line x1="150" y1="1220" x2="189" y2="1220"/><line x1="150" y1="1275" x2="189" y2="1275"/>
</g>
<!-- frequency boxes -->
<g fill="none" stroke="#0c0c0c" stroke-width="1.3">
<path d="M299,1030h38v299h-38zM299,1060h38M299,1090h38M299,1120h38M299,1150h38M299,1180h38M299,1210h38M299,1239h38M299,1269h38M299,1299h38"/>
<path d="M355.500,1030h38v299h-38zM355.500,1060h38M355.500,1090h38M355.500,1120h38M355.500,1150h38M355.500,1180h38M355.500,1210h38M355.500,1239h38M355.500,1269h38M355.500,1299h38"/>
<path d="M412,1030h38v299h-38zM412,1060h38M412,1090h38M412,1120h38M412,1150h38M412,1180h38M412,1210h38M412,1239h38M412,1269h38M412,1299h38"/>
<path d="M469,1030h38v299h-38zM469,1060h38M469,1090h38M469,1120h38M469,1150h38M469,1180h38M469,1210h38M469,1239h38M469,1269h38M469,1299h38"/>
</g>
<g fill="#ff4000">
<rect x="293" y="1247" width="49" height="3"/><rect x="293" y="1256" width="49" height="3"/><rect x="299" y="1248" width="38" height="10"/>
<rect x="350" y="1241" width="49" height="3"/><rect x="406.500" y="1241" width="49" height="3"/>
<rect x="463" y="1185" width="49" height="3"/><rect x="463" y="1192.500" width="49" height="3"/><rect x="469" y="1186" width="38" height="9"/>
</g>
<!-- text -->
<text x="62" y="66" font-size="33">March, 25 2020</text>
<text x="62" y="94.500" font-size="33">1416:23 UT</text>
<text x="76" y="851" font-size="31">Velocity (m/s)</text>
<g font-size="24" text-anchor="end">
<text x="136" y="896">100</text><text x="136" y="950">75</text><text x="136" y="1004">50</text><text x="136" y="1058">25</text><text x="136" y="1113">0</text><text x="136" y="1166">-25</text><text x="136" y="1220">-50</text><text x="136" y="1275">-75</text><text x="136" y="1329">-100</text>
<text x="291" y="1042">18</text><text x="291" y="1072">17</text><text x="291" y="1102">16</text><text x="291" y="1131">15</text><text x="291" y="1161">14</text><text x="291" y="1191">13</text><text x="291" y="1221">12</text><text x="291" y="1251">11</text><text x="291" y="1280">10</text><text x="291" y="1310">9</text><text x="291" y="1340">8</text>
</g>
<g font-size="24">
<text x="202" y="916">toward</text><text x="202" y="1328">away</text><text x="202" y="1091">10</text><text x="202" y="1155">-10</text>
<text x="515" y="1042">18</text><text x="515" y="1072">17</text><text x="515" y="1102">16</text><text x="515" y="1131">15</text><text x="515" y="1161">14</text><text x="515" y="1191">13</text><text x="515" y="1221">12</text><text x="515" y="1251">11</text><text x="515" y="1280">10</text><text x="515" y="1310">9</text><text x="515" y="1340">8</text>
</g>
<text x="403" y="985" font-size="33" text-anchor="middle">Frequency</text>
<g font-size="31" text-anchor="middle">
<text x="318" y="1017">cvw</text><text x="374.500" y="1017">cve</text><text x="431" y="1017">fhw</text><text x="488" y="1017">fhe</text>
</g>
<g font-size="31">
<text x="1002" y="1393" style="fill:#000">cvw</text><text x="1078" y="1393" style="fill:#000">cve</text>
<text x="1079" y="1421" style="fill:#ff00ff">b08</text>
<text x="1660" y="1396" style="fill:#000">fhw</text><text x="1730" y="1396" style="fill:#000">fhe</text>
<text x="1665" y="1423" style="fill:#ff00ff">b15</text>
</g>
</svg>
</body></html>
